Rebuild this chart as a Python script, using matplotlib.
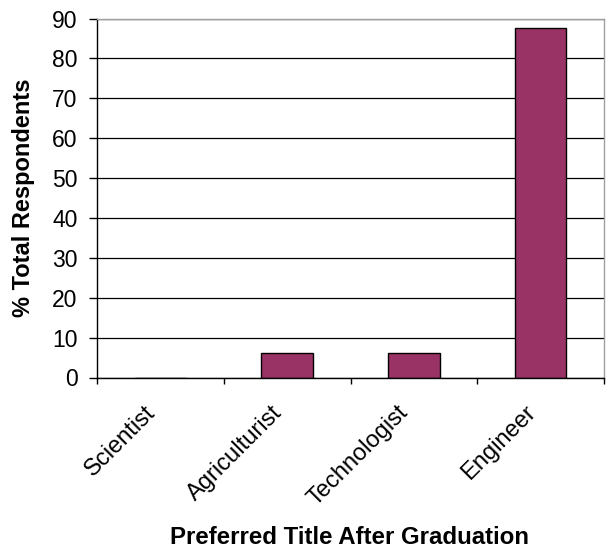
import matplotlib.pyplot as plt
import numpy as np

plt.rcParams["font.family"] = ["Liberation Sans", "DejaVu Sans"]

# Data
categories = ["Scientist", "Agriculturist", "Technologist", "Engineer"]
percent = [0.0, 6.25, 6.25, 87.5]

fig = plt.figure(figsize=(6.08, 5.49), dpi=100)
ax = fig.add_axes([97 / 608, 1 - 377.5 / 549, 507 / 608, 359 / 549])

x = np.arange(len(categories))
ax.bar(x, percent, width=0.405, color="#993366", edgecolor="black", linewidth=1.0, zorder=3)

# Styling
ax.set_xlim(-0.5, len(categories) - 0.5)
ax.set_ylim(0, 90)
ax.set_yticks(np.arange(0, 91, 10))
ax.yaxis.grid(True, color="black", linewidth=0.9, zorder=0)
ax.set_axisbelow(True)

ax.spines["top"].set_color("#a0a0a0")
ax.spines["right"].set_color("#a0a0a0")
ax.spines["left"].set_color("black")
ax.spines["bottom"].set_color("black")
for s in ax.spines.values():
    s.set_linewidth(1.0)
    s.set_zorder(4)

# category ticks sit between the bars
ax.set_xticks(np.arange(-0.5, len(categories) + 0.5, 1.0))
ax.set_xticklabels([])
ax.tick_params(axis="x", direction="out", length=4.5, width=1)
ax.tick_params(axis="y", direction="out", length=6, width=1, labelsize=16.5, pad=8)

for xi, name in zip(x, categories):
    ax.text(xi - 0.13, -6.0, name, rotation=45, ha="right", va="top",
            rotation_mode="anchor", fontsize=17, transform=ax.transData)

fig.text(24 / 608, 1 - 197.5 / 549, "% Total Respondents", rotation=90,
         ha="center", va="center", fontsize=17, fontweight="bold")
fig.text(349 / 608, 1 - 537 / 549, "Preferred Title After Graduation",
         ha="center", va="center", fontsize=17.3, fontweight="bold")

plt.savefig("out.png", dpi=100, facecolor="white")
